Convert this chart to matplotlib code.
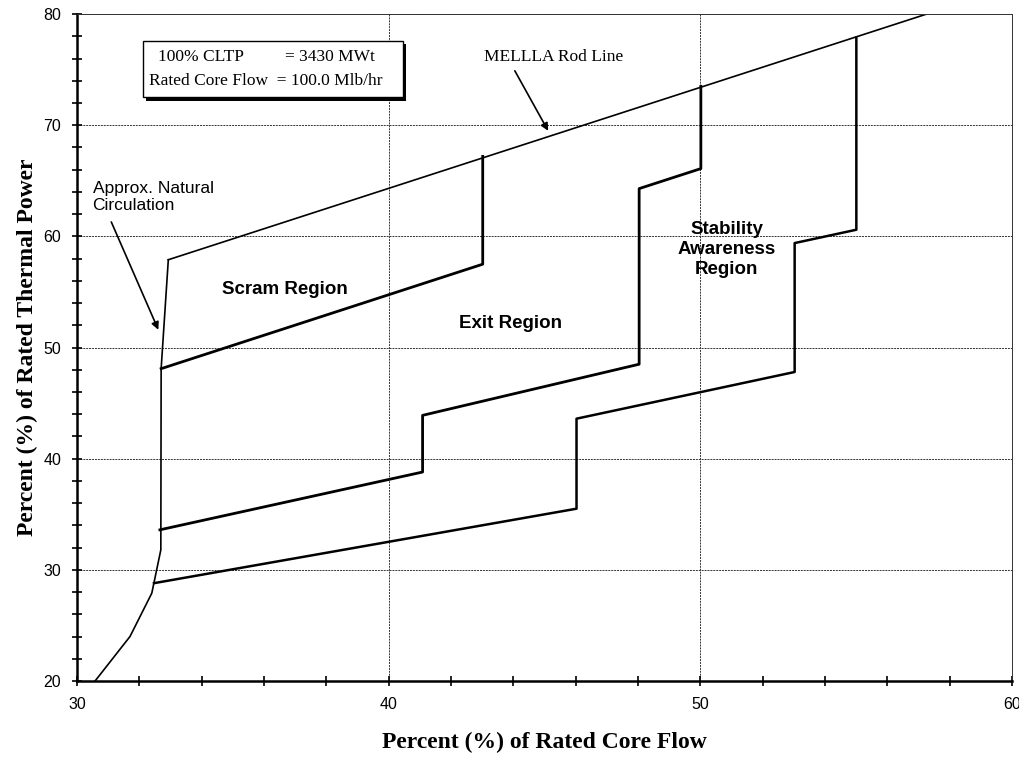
import matplotlib.pyplot as plt
from matplotlib.ticker import MultipleLocator
from matplotlib.patches import Rectangle

# boundary lines (x = % rated core flow, y = % rated thermal power)
nat_circ_x = [30.58, 31.7, 32.4, 32.69, 32.70, 32.93]
nat_circ_y = [20.0, 24.0, 27.9, 31.8, 48.1, 57.9]

rod_line_x = [32.93, 57.26]
rod_line_y = [57.9, 80.0]

scram_x = [32.70, 43.02, 43.02]
scram_y = [48.1, 57.5, 67.2]

exit_x = [32.66, 41.09, 41.09, 48.04, 48.04, 50.02, 50.02]
exit_y = [33.6, 38.8, 43.9, 48.5, 64.3, 66.1, 73.5]

stab_x = [32.47, 46.03, 46.03, 53.03, 53.03, 55.01, 55.01]
stab_y = [28.8, 35.5, 43.6, 47.8, 59.4, 60.6, 77.9]

x_ticks = [30, 40, 50, 60]
y_ticks = [20, 30, 40, 50, 60, 70, 80]

serif = ['Liberation Serif', 'DejaVu Serif']
sans = ['Liberation Sans', 'DejaVu Sans']

fig = plt.figure(figsize=(10.2, 7.63), dpi=100)
ax = fig.add_axes([0.0755, 0.1075, 0.9165, 0.874])

ax.plot(nat_circ_x, nat_circ_y, color='black', lw=1.2)
ax.plot(rod_line_x, rod_line_y, color='black', lw=1.2)
ax.plot(scram_x, scram_y, color='black', lw=2.0)
ax.plot(exit_x, exit_y, color='black', lw=2.0)
ax.plot(stab_x, stab_y, color='black', lw=1.8)

ax.set_xlim(30, 60)
ax.set_ylim(20, 80)
ax.set_xticks(x_ticks)
ax.set_yticks(y_ticks)
ax.xaxis.set_minor_locator(MultipleLocator(2))
ax.yaxis.set_minor_locator(MultipleLocator(2))
ax.tick_params(which='both', direction='inout', length=7, width=1.2, color='black')
ax.tick_params(labelsize=11.5)
ax.tick_params(axis='y', pad=8)
ax.tick_params(axis='x', pad=8)
for lab in ax.get_xticklabels() + ax.get_yticklabels():
    lab.set_family(sans)

ax.grid(True, which='major', color='#333333', lw=0.7, linestyle=(0, (2, 1)))
for s in ['left', 'bottom']:
    ax.spines[s].set_linewidth(1.8)
for s in ['top', 'right']:
    ax.spines[s].set_linewidth(0.7)
    ax.spines[s].set_linestyle((0, (2, 1)))
    ax.spines[s].set_color('#333333')

ax.set_xlabel('Percent (%) of Rated Core Flow', family=serif, fontweight='bold',
              fontsize=17, labelpad=14)
ax.set_ylabel('Percent (%) of Rated Thermal Power', family=serif, fontweight='bold',
              fontsize=17, labelpad=4)

# region labels
ax.text(36.67, 55.2, 'Scram Region', family=sans, fontweight='bold', fontsize=13.5,
        ha='center', va='center')
ax.text(43.9, 52.2, 'Exit Region', family=sans, fontweight='bold', fontsize=13.5,
        ha='center', va='center')
ax.text(50.85, 58.8, 'Stability\nAwareness\nRegion', family=sans, fontweight='bold',
        fontsize=13.5, ha='center', va='center', linespacing=1.25)

# annotations
ax.text(30.5, 62.1, 'Approx. Natural\nCirculation', family=sans, fontsize=12.5,
        ha='left', va='bottom', linespacing=1.2)
ax.annotate('', xy=(32.61, 51.6), xytext=(31.1, 61.3),
            arrowprops=dict(arrowstyle='-|>', color='black', lw=1.2,
                            shrinkA=0, shrinkB=0, mutation_scale=11))
ax.text(45.3, 76.1, 'MELLLA Rod Line', family=serif, fontsize=12.5,
        ha='center', va='center')
ax.annotate('', xy=(45.12, 69.5), xytext=(44.05, 74.9),
            arrowprops=dict(arrowstyle='-|>', color='black', lw=1.2,
                            shrinkA=0, shrinkB=0, mutation_scale=11))

# info box with drop shadow
box_x, box_y, box_w, box_h = 32.12, 72.5, 8.33, 5.1
ax.add_patch(Rectangle((box_x + 0.1, box_y - 0.28), box_w, box_h, facecolor='black',
                       edgecolor='none', zorder=4))
ax.add_patch(Rectangle((box_x, box_y), box_w, box_h, facecolor='white',
                       edgecolor='black', lw=1.0, zorder=5))
ax.text(32.6, 76.1, '100% CLTP', family=serif, fontsize=12.5, va='center', zorder=6)
ax.text(36.67, 76.1, '= 3430 MWt', family=serif, fontsize=12.5, va='center', zorder=6)
ax.text(32.3, 74.0, 'Rated Core Flow  = 100.0 Mlb/hr', family=serif, fontsize=12.5,
        va='center', zorder=6)

fig.savefig('out.png', dpi=100)
